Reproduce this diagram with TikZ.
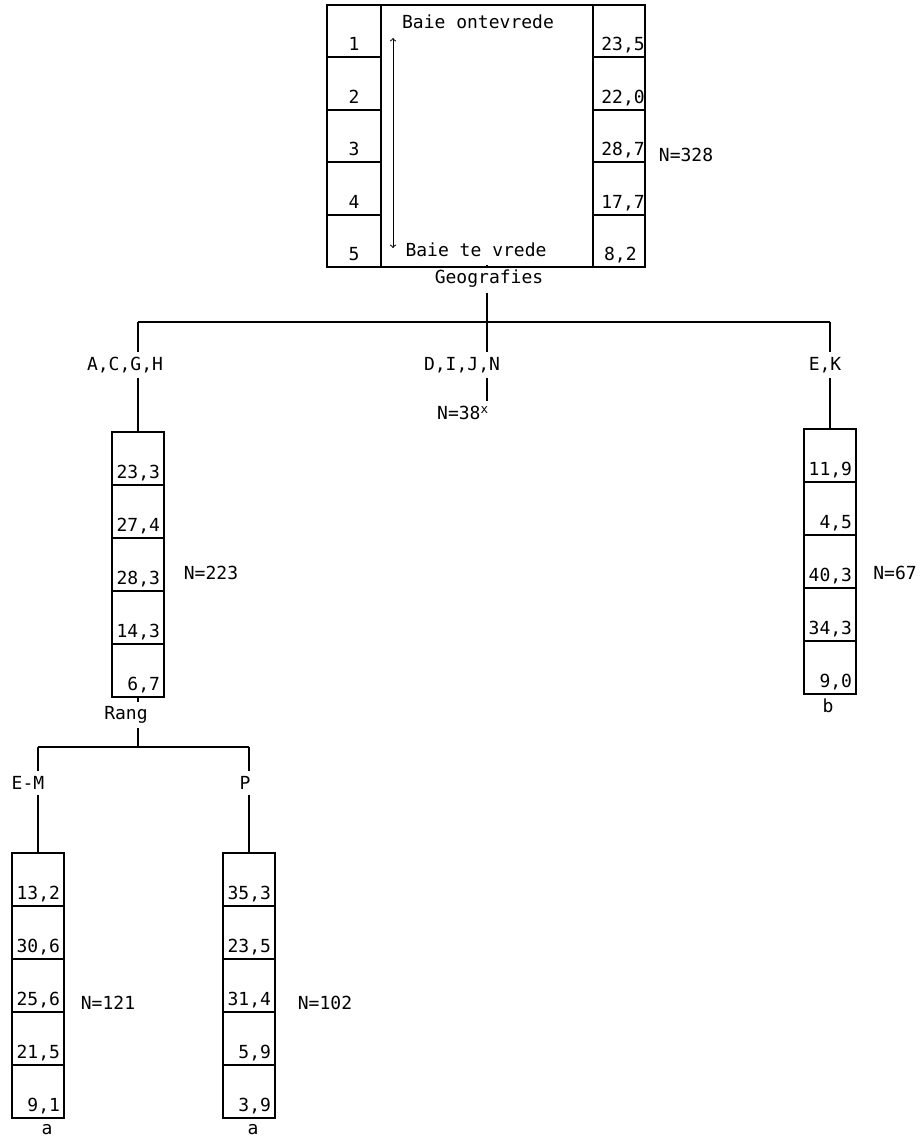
\documentclass[tikz,border=0pt]{standalone}
\usepackage{fontspec}
\setmonofont{DejaVu Sans Mono}
\tikzset{
  cell/.style={draw, line width=1.1pt, text width=1.1cm, align=right, inner xsep=0.1cm, inner ysep=0pt, text height=1.17cm, text depth=0.155cm},
  rank/.style={cell, align=center, text width=1.15cm, text height=1.15cm, text depth=0.16cm},
  tval/.style={cell, text width=0.88cm, inner xsep=0.21cm, text height=1.15cm, text depth=0.16cm},
  branch/.style={line width=0.9pt},
}
\begin{document}
\begin{tikzpicture}[x=0.025cm, y=-0.025cm, font=\ttfamily\fontsize{12.8}{15}\selectfont]
            \useasboundingbox (0,0) rectangle (923,1138);

            % bovenste skaal
            \node[draw,line width=1.1pt,minimum width=5.3cm,minimum height=6.55cm,inner sep=0pt] (scale) at (487,136) {};
            \node[rank] (r1) at (354,31) {1};
            \node[rank] (r2) at (354,83.5) {2};
            \node[rank] (r3) at (354,136) {3};
            \node[rank] (r4) at (354,188.5) {4};
            \node[rank] (r5) at (354,241) {5};
            \node[tval] (t1) at (619,31) {23,5};
            \node[tval] (t2) at (619,83.5) {22,0};
            \node[tval] (t3) at (619,136) {28,7};
            \node[tval] (t4) at (619,188.5) {17,7};
            \node[tval] (t5) at (619,241) {8,2};
            \node (ontev) at (478,22) {Baie ontevrede};
            \node (tevre) at (476,250) {Baie te vrede};
            \coordinate (hi) at (393,38);
            \coordinate (lo) at (393,248);
            \draw[line width=0.7pt,to-to] (hi) to (lo);
            \node (n328) at (686,155) {N=328};

            % geografies
            \node (geo) at (489,279) {Geografies};
            \coordinate (gl) at (138,322);
            \coordinate (gr) at (830,322);
            \node (acgh) at (125,365) {A,C,G,H};
            \node (dijn) at (462,365) {D,I,J,N};
            \node (ek) at (825,365) {E,K};
            \node (n38) at (463,413) {N=38\textsuperscript{x}};

            \draw[branch] (scale.south) to (scale.south |- geo.north);
            \draw[branch] (scale.south |- geo.south) to (scale.south |- gl);
            \draw[branch] (gl) to (gr);
            \draw[branch] (gl) to (gl |- acgh.north);
            \draw[branch] (scale.south |- gl) to (scale.south |- dijn.north);
            \draw[branch] (gr) to (gr |- ek.north);
            \draw[branch] (scale.south |- dijn.south) to (scale.south |- n38.north);

            % A,C,G,H
            \node[cell] (a1) at (138,458.5) {23,3};
            \node[cell] (a2) at (138,511.5) {27,4};
            \node[cell] (a3) at (138,564.5) {28,3};
            \node[cell] (a4) at (138,617.5) {14,3};
            \node[cell] (a5) at (138,670.5) {6,7};
            \node (n223) at (211,573) {N=223};
            \draw[branch] (a1.north |- acgh.south) to (a1.north);

            % E,K
            \node[cell] (k1) at (830,455.5) {11,9};
            \node[cell] (k2) at (830,508.5) {4,5};
            \node[cell] (k3) at (830,561.5) {40,3};
            \node[cell] (k4) at (830,614.5) {34,3};
            \node[cell] (k5) at (830,667.5) {9,0};
            \node (n67) at (895,573) {N=67};
            \node (kb) at (828,706) {b};
            \draw[branch] (k1.north |- ek.south) to (k1.north);

            % rang
            \node (rang) at (126,715) {Rang};
            \coordinate (rl) at (38,747);
            \coordinate (rr) at (249,747);
            \node (em) at (28,783) {E-M};
            \node (pl) at (245,783) {P};
            \draw[branch] (a5.south) to (a5.south |- rang.north);
            \draw[branch] (a5.south |- rang.south) to (a5.south |- rl);
            \draw[branch] (rl) to (rr);
            \draw[branch] (rl) to (rl |- em.north);
            \draw[branch] (rr) to (rr |- pl.north);

            % E-M
            \node[cell] (m1) at (38,879.5) {13,2};
            \node[cell] (m2) at (38,932.5) {30,6};
            \node[cell] (m3) at (38,985.5) {25,6};
            \node[cell] (m4) at (38,1038.5) {21,5};
            \node[cell] (m5) at (38,1091.5) {9,1};
            \node (n121) at (108,1003) {N=121};
            \node (ma) at (47,1130) {a};
            \draw[branch] (m1.north |- em.south) to (m1.north);

            % P
            \node[cell] (p1) at (249,879.5) {35,3};
            \node[cell] (p2) at (249,932.5) {23,5};
            \node[cell] (p3) at (249,985.5) {31,4};
            \node[cell] (p4) at (249,1038.5) {5,9};
            \node[cell] (p5) at (249,1091.5) {3,9};
            \node (n102) at (325,1003) {N=102};
            \node (pa) at (253,1130) {a};
            \draw[branch] (p1.north |- pl.south) to (p1.north);

        \end{tikzpicture}
\end{document}
